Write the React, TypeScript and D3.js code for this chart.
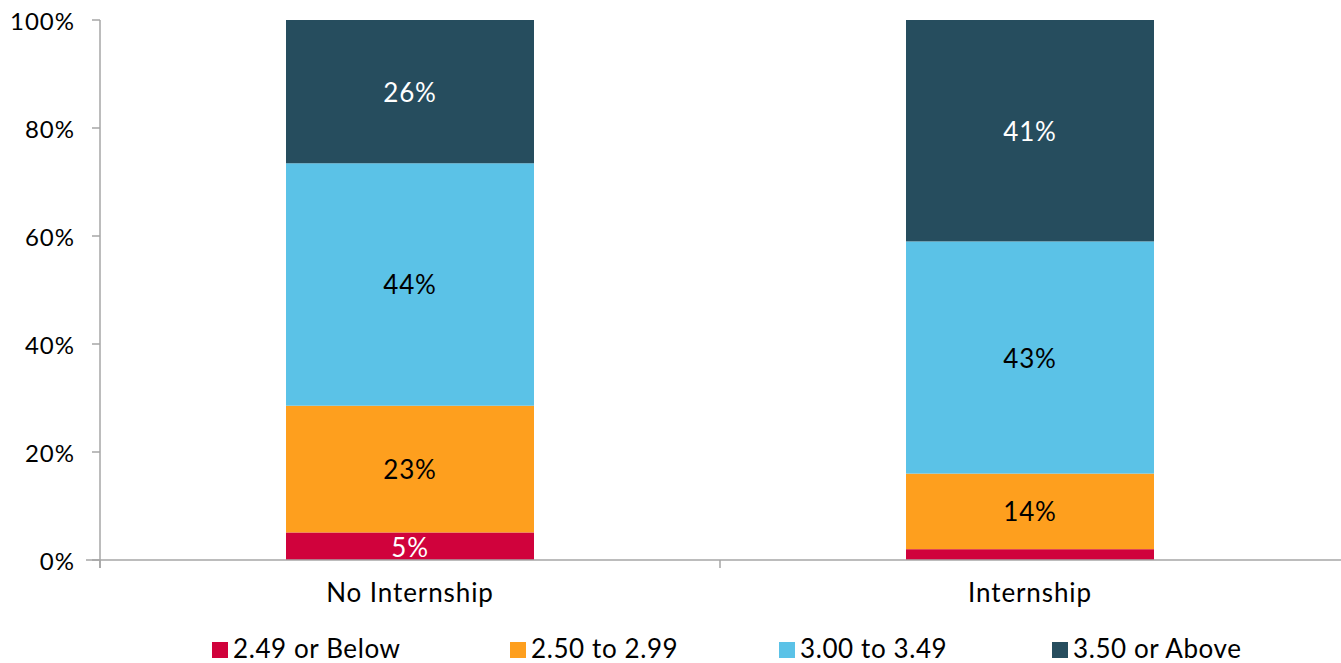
import React from "react";
import * as d3 from "d3";

const categories = ["No Internship", "Internship"];
const seriesNames = ["2.49 or Below", "2.50 to 2.99", "3.00 to 3.49", "3.50 or Above"];
const noInternship = [5, 23, 44, 26];
const internship = [2, 14, 43, 41];
const colors = ["#D0023C", "#FE9F1E", "#5BC2E7", "#264D5E"];
const labelColors = ["#FFFFFF", "#000000", "#000000", "#FFFFFF"];
const showLabel = [[true, true, true, true], [false, true, true, true]];
const yTicks = [0, 20, 40, 60, 80, 100];

const W = 1341;
const H = 663;
const FONT = "Lato, 'Open Sans', sans-serif";

export default function App() {
  const rows = [noInternship, internship];
  const x = d3.scaleBand<string>().domain(categories).range([100, 1340]).paddingInner(0).paddingOuter(0);
  const y = d3.scaleLinear().domain([0, 100]).range([560, 20]);
  const barW = x.bandwidth() * 0.4;

  const stacks = rows.map((vals) => {
    const total = d3.sum(vals);
    let acc = 0;
    return vals.map((v, i) => {
      const p = (v / total) * 100;
      const s = { y0: acc, y1: acc + p, v, i };
      acc += p;
      return s;
    });
  });

  const legendX = [212, 510, 779, 1052];

  return (
    <svg width={W} height={H} style={{ position: "absolute", left: 0, top: 0 }} fontFamily={FONT}>
      {stacks.map((segs, ci) => {
        const cx = (x(categories[ci]) as number) + x.bandwidth() / 2;
        return (
          <g key={ci}>
            {segs.map((s) => (
              <rect key={s.i} x={cx - barW / 2} y={y(s.y1)} width={barW} height={y(s.y0) - y(s.y1)} fill={colors[s.i]} />
            ))}
            {segs.map((s) =>
              showLabel[ci][s.i] ? (
                <text
                  key={"t" + s.i}
                  x={cx}
                  y={(y(s.y0) + y(s.y1)) / 2 + (s.i === 0 ? 1 : 0)}
                  textAnchor="middle"
                  dominantBaseline="central"
                  fontSize={26}
                  letterSpacing={0.8}
                  fill={labelColors[s.i]}
                >
                  {s.v}%
                </text>
              ) : null
            )}
          </g>
        );
      })}
      <line x1={100} x2={100} y1={20} y2={568} stroke="#A6A6A6" strokeWidth={1.5} />
      <line x1={86} x2={1341} y1={560} y2={560} stroke="#A6A6A6" strokeWidth={1.5} />
      {yTicks.map((t) => (
        <g key={t}>
          <line x1={92} x2={100} y1={y(t)} y2={y(t)} stroke="#A6A6A6" strokeWidth={1.5} />
          <text x={75} y={y(t)} textAnchor="end" dominantBaseline="central" fontSize={24} letterSpacing={1} fill="#000">
            {t}%
          </text>
        </g>
      ))}
      {[100, 720].map((tx) => (
        <line key={tx} x1={tx} x2={tx} y1={560} y2={568} stroke="#A6A6A6" strokeWidth={1.5} />
      ))}
      {categories.map((c) => (
        <text key={c} x={(x(c) as number) + x.bandwidth() / 2} y={592} textAnchor="middle" dominantBaseline="central" fontSize={26} letterSpacing={0.9} fill="#000">
          {c}
        </text>
      ))}
      {seriesNames.map((n, i) => (
        <g key={n}>
          <rect x={legendX[i]} y={642} width={16} height={16} fill={colors[i]} />
          <text x={legendX[i] + 21} y={648} dominantBaseline="central" fontSize={26} letterSpacing={0.6} fill="#000">
            {n}
          </text>
        </g>
      ))}
    </svg>
  );
}
